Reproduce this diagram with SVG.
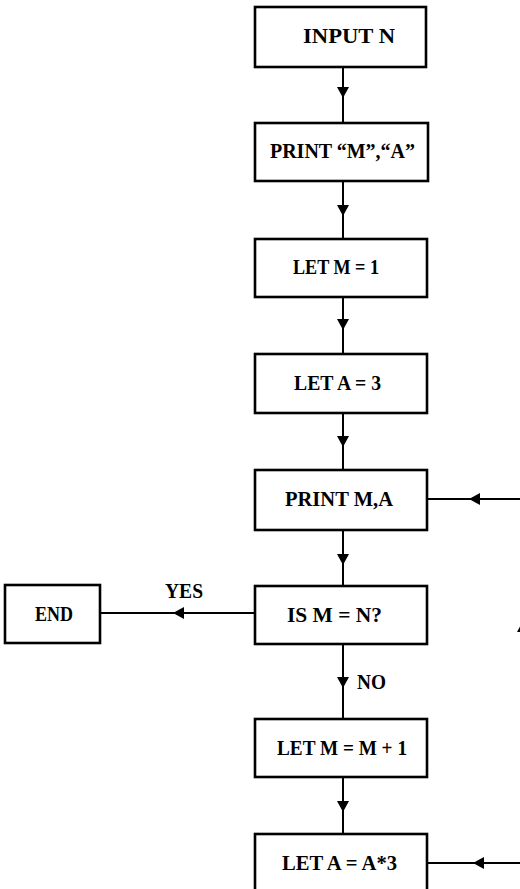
<svg xmlns="http://www.w3.org/2000/svg" xmlns:xlink="http://www.w3.org/1999/xlink" width="520" height="889" viewBox="0 0 520 889">
<style>
.box{fill:#fff;stroke:#000;stroke-width:2.6}
.ln{fill:none;stroke:#000;stroke-width:2}
.ah{fill:#000;stroke:none}
text{font-family:"Liberation Serif","Times New Roman",serif;font-weight:bold;font-size:22px;fill:#000}
</style>
<defs>
<path id="ah" d="M-6,-11 L6,-11 L0,0 Z"/>
</defs>
<rect width="520" height="889" fill="#fff"/>
<g id="connectors">
<line class="ln" x1="343" y1="67" x2="343" y2="123"/>
<use href="#ah" class="ah" transform="translate(343,98)"/>
<line class="ln" x1="343" y1="181" x2="343" y2="239"/>
<use href="#ah" class="ah" transform="translate(343,216)"/>
<line class="ln" x1="343" y1="297" x2="343" y2="354"/>
<use href="#ah" class="ah" transform="translate(343,330)"/>
<line class="ln" x1="343" y1="413" x2="343" y2="470"/>
<use href="#ah" class="ah" transform="translate(343,447)"/>
<line class="ln" x1="343" y1="530" x2="343" y2="586"/>
<use href="#ah" class="ah" transform="translate(343,565)"/>
<line class="ln" x1="343" y1="644" x2="343" y2="719"/>
<use href="#ah" class="ah" transform="translate(343,688)"/>
<line class="ln" x1="343" y1="777" x2="343" y2="834"/>
<use href="#ah" class="ah" transform="translate(343,812)"/>
<line class="ln" x1="255" y1="613" x2="100" y2="613"/>
<use href="#ah" class="ah" transform="translate(173,613) rotate(90)"/>
<line class="ln" x1="427" y1="499" x2="524" y2="499"/>
<use href="#ah" class="ah" transform="translate(469,499) rotate(90)"/>
<line class="ln" x1="427" y1="863" x2="524" y2="863"/>
<use href="#ah" class="ah" transform="translate(473,863) rotate(90)"/>
<line class="ln" x1="523" y1="863" x2="523" y2="499"/>
<use href="#ah" class="ah" transform="translate(523,621) rotate(180)"/>
<text x="165" y="598" textLength="38" lengthAdjust="spacingAndGlyphs">YES</text>
<text x="357" y="689" textLength="29" lengthAdjust="spacingAndGlyphs">NO</text>
</g>
<g id="n1"><rect class="box" x="255" y="7" width="171" height="60"/><text x="303" y="43" textLength="92" lengthAdjust="spacingAndGlyphs">INPUT N</text></g>
<g id="n2"><rect class="box" x="255" y="123" width="173" height="58"/><text x="270" y="158" textLength="145" lengthAdjust="spacingAndGlyphs">PRINT “M”,“A”</text></g>
<g id="n3"><rect class="box" x="255" y="239" width="172" height="58"/><text x="293" y="274" textLength="86" lengthAdjust="spacingAndGlyphs">LET M = 1</text></g>
<g id="n4"><rect class="box" x="255" y="354" width="172" height="59"/><text x="294" y="390" textLength="87" lengthAdjust="spacingAndGlyphs">LET A = 3</text></g>
<g id="n5"><rect class="box" x="255" y="470" width="172" height="60"/><text x="285" y="506" textLength="108" lengthAdjust="spacingAndGlyphs">PRINT M,A</text></g>
<g id="n6"><rect class="box" x="255" y="586" width="172" height="58"/><text x="287" y="622" textLength="95" lengthAdjust="spacingAndGlyphs">IS M = N?</text></g>
<g id="n7"><rect class="box" x="255" y="719" width="172" height="58"/><text x="277" y="755" textLength="130" lengthAdjust="spacingAndGlyphs">LET M = M + 1</text></g>
<g id="n8"><rect class="box" x="255" y="834" width="172" height="60"/><text x="282" y="870" textLength="115" lengthAdjust="spacingAndGlyphs">LET A = A*3</text></g>
<g id="end"><rect class="box" x="5" y="585" width="95" height="58"/><text x="35" y="621" textLength="38" lengthAdjust="spacingAndGlyphs">END</text></g>
</svg>
